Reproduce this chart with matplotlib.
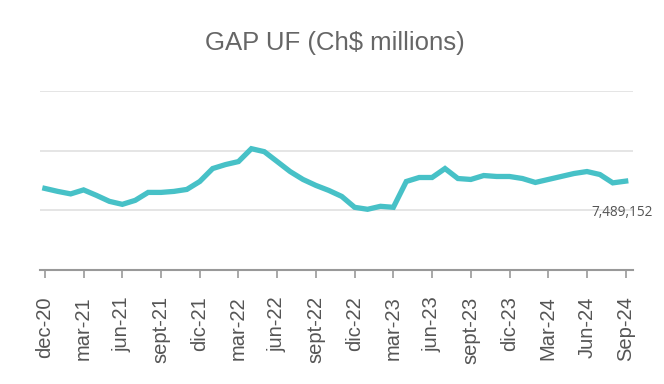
import matplotlib

matplotlib.use("Agg")
import matplotlib.pyplot as plt

# monthly GAP UF, Ch$ millions (dec-20 .. Sep-24)
months = [
    "dec-20", "ene-21", "feb-21", "mar-21", "abr-21", "may-21", "jun-21", "jul-21", "ago-21",
    "sept-21", "oct-21", "nov-21", "dic-21", "ene-22", "feb-22", "mar-22", "abr-22", "may-22",
    "jun-22", "jul-22", "ago-22", "sept-22", "oct-22", "nov-22", "dic-22", "ene-23", "feb-23",
    "mar-23", "abr-23", "may-23", "jun-23", "jul-23", "ago-23", "sept-23", "oct-23", "nov-23",
    "dic-23", "Jan-24", "Feb-24", "Mar-24", "Apr-24", "May-24", "Jun-24", "Jul-24", "Aug-24",
    "Sep-24",
]
gap_uf = [
    7367000, 7317000, 7275000, 7342000, 7250000, 7150000, 7100000, 7167000, 7300000,
    7300000, 7317000, 7350000, 7483000, 7700000, 7767000, 7817000, 8033000, 7983000,
    7817000, 7650000, 7517000, 7417000, 7333000, 7233000, 7050000, 7017000, 7067000,
    7050000, 7483000, 7550000, 7550000, 7700000, 7533000, 7517000, 7583000, 7567000,
    7567000, 7533000, 7467000, 7517000, 7567000, 7617000, 7650000, 7600000, 7460000,
    7489152,
]
tick_labels = [
    "dec-20", "mar-21", "jun-21", "sept-21", "dic-21", "mar-22", "jun-22", "sept-22",
    "dic-22", "mar-23", "jun-23", "sept-23", "dic-23", "Mar-24", "Jun-24", "Sep-24",
]
grid_levels = [6000000, 7000000, 8000000, 9000000]

LINE = "#47c1c7"

fig = plt.figure(figsize=(6.64, 3.84), dpi=100)
ax = fig.add_axes([0.060, 0.297, 0.893, 0.466])

x = list(range(len(gap_uf)))
ax.plot(x, gap_uf, color=LINE, linewidth=3.8, solid_joinstyle="miter", zorder=3)

for level in grid_levels[1:]:
    ax.axhline(level, color="#e3e3e3", linewidth=1.3, zorder=1)

ax.set_xlim(-0.39, 45.55)
ax.set_ylim(grid_levels[0], grid_levels[-1])

tick_pos = [months.index(label) for label in tick_labels]
ax.set_xticks(tick_pos)
ax.set_xticklabels(tick_labels, rotation=90, fontsize=14.5, color="#555555", family="Liberation Sans")
ax.tick_params(axis="x", length=6, width=1.2, color="#999999", pad=13)
ax.set_yticks([])

for side in ["top", "right", "left"]:
    ax.spines[side].set_visible(False)
ax.spines["bottom"].set_color("#999999")
ax.spines["bottom"].set_linewidth(1.5)

last = len(gap_uf) - 1
ax.annotate(
    f"{gap_uf[last]:,}",
    xy=(last, gap_uf[last]),
    xytext=(-4, -31),
    textcoords="offset pixels",
    ha="center",
    va="center",
    fontsize=9.8,
    color="#555555",
    family="Open Sans",
)

fig.text(0.505, 0.888, "GAP UF (Ch$ millions)", ha="center", va="center",
         fontsize=18.5, color="#666666", family="Liberation Sans")

fig.savefig("out.png", dpi=100)
